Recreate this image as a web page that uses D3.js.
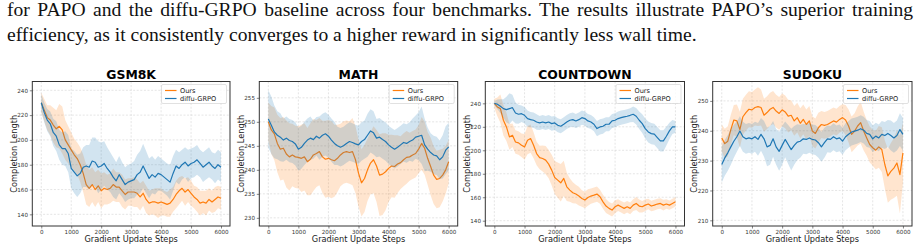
<!DOCTYPE html>
<html>
<head>
<meta charset="utf-8">
<script src="https://cdn.jsdelivr.net/npm/d3@7"></script>
<style>
  body { margin: 0; background: #fff; }
  svg { display: block; }
</style>
</head>
<body>
<script>

// gradient update steps, sampled every 100
let steps = d3.range(0, 6001, 100);

let xTicks = [0, 1000, 2000, 3000, 4000, 5000, 6000];

let seriesNames = ["Ours", "diffu-GRPO"];

// GSM8K
let gsmOurs = [
  230, 224, 218, 216, 212, 209, 211, 208, 200, 196,
  192, 188, 185, 180, 173, 164, 161, 164, 160, 163,
  159, 161, 160, 161, 164, 162, 162, 159, 156, 158,
  158, 158, 157, 154, 157, 152, 149, 150, 150, 149,
  150, 149, 148, 149, 152, 156, 159, 161, 158, 160,
  157, 154, 152, 149, 150, 149, 152, 150, 152, 154,
  153];
let gsmOursSd = [
  8, 9, 10, 12, 14, 15, 18, 19, 16, 15,
  14, 13, 13, 14, 15, 16, 15, 14, 14, 13,
  14, 13, 12, 12, 13, 12, 12, 13, 12, 11,
  11, 12, 11, 11, 10, 11, 10, 10, 11, 12,
  11, 10, 10, 11, 10, 11, 11, 10, 11, 10,
  10, 9, 10, 10, 9, 10, 9, 9, 10, 9,
  9];
let gsmGrpo = [
  230, 222, 216, 213, 206, 203, 196, 193, 193, 189,
  177, 174, 171, 173, 178, 179, 178, 183, 182, 178,
  179, 181, 177, 174, 170, 167, 172, 168, 164, 166,
  167, 168, 172, 174, 179, 174, 169, 172, 170, 173,
  172, 170, 168, 166, 173, 179, 177, 180, 182, 179,
  181, 182, 184, 181, 178, 180, 182, 179, 177, 180,
  178];
let gsmGrpoSd = [
  7, 8, 9, 10, 11, 12, 12, 13, 14, 15,
  16, 17, 17, 16, 16, 17, 18, 19, 20, 21,
  19, 18, 17, 16, 16, 15, 15, 14, 14, 14,
  14, 15, 16, 17, 18, 17, 16, 15, 14, 14,
  13, 13, 13, 14, 14, 13, 13, 12, 12, 13,
  12, 12, 12, 11, 12, 12, 12, 11, 12, 12,
  12];
let gsmTicks = [140, 160, 180, 200, 220, 240];

// MATH
let mathOurs = [
  250, 248.3, 247.5, 245.5, 244.3, 244.5, 243.3, 242.7, 243.1, 242.7,
  242.6, 242.4, 242.7, 241.7, 242.2, 243.1, 243.4, 243.8, 242.7, 242.2,
  242.4, 242.1, 241.9, 242.4, 243.1, 243.6, 243.8, 243.6, 243.8, 242.1,
  239.3, 237.3, 238.2, 240.0, 241.4, 242.1, 240.8, 238.9, 239.1, 239.6,
  240.3, 240.8, 240.7, 241.2, 241.5, 242.1, 242.6, 242.7, 243.1, 243.4,
  244.3, 245.5, 244.5, 242.4, 240.7, 238.9, 238.0, 238.2, 238.9, 240.0,
  241.7];
let mathOursSd = [
  4, 5, 5.5, 6, 6.5, 6.5, 7, 7, 6.5, 6.5,
  6.5, 7, 7, 7, 7.5, 7.5, 7, 7, 7.5, 8,
  8, 8, 7.5, 7, 6.5, 6.5, 6.5, 6.5, 7, 7,
  7, 7, 7, 6.5, 6.5, 7, 7.5, 8.5, 8.5, 8,
  7, 6.5, 6.5, 6, 5.5, 5.5, 5.5, 5, 5, 5,
  5, 5.5, 5.5, 5.5, 6, 6, 6, 6, 5.5, 5,
  4.5];
let mathGrpo = [
  250.6, 249.3, 247.9, 247.2, 246.8, 246.2, 246.6, 246.1, 245.9, 245.4,
  244.3, 244.7, 245.5, 246.2, 246.6, 246.3, 247.0, 246.6, 247.2, 247.5,
  247.0, 246.2, 245.5, 245.0, 244.7, 245.0, 245.5, 245.9, 245.7, 245.4,
  245.2, 245.9, 246.3, 247.2, 248.1, 247.7, 246.6, 246.8, 246.3, 245.9,
  245.2, 244.7, 244.3, 244.7, 245.2, 245.7, 245.5, 245.9, 246.2, 246.8,
  247.0, 247.2, 245.2, 244.3, 243.6, 243.1, 242.9, 242.1, 242.7, 244.1,
  244.8];
let mathGrpoSd = [
  6, 6, 5.5, 5, 5, 4.5, 4.5, 4.5, 4.5, 4.5,
  4.5, 4.5, 4.5, 4.5, 4.5, 4, 4, 4.5, 4.5, 4.5,
  4.5, 4.5, 4.5, 4, 4, 4, 4, 4, 4, 4,
  4, 4, 4, 4.5, 4.5, 4.5, 4, 4, 4, 4,
  4, 4, 4, 4, 4, 4, 4, 4, 4.5, 4.5,
  5, 6, 5.5, 4.5, 4, 4, 4, 4, 4.5, 5,
  5];
let mathTicks = [230, 235, 240, 245, 250, 255];

// COUNTDOWN
let cdOurs = [
  240, 236.9, 235.5, 225.6, 219.9, 211.4, 212.8, 207.1, 206.3, 204.3,
  202.9, 208.6, 210.0, 204.3, 197.2, 193.8, 193.0, 191.6, 188.2, 183.1,
  176.8, 174.6, 172.3, 176.0, 168.9, 166.1, 163.8, 162.7, 161.0, 159.0,
  157.6, 159.8, 161.0, 161.8, 162.7, 160.4, 156.1, 152.5, 150.5, 149.1,
  151.9, 153.3, 151.9, 150.5, 151.9, 150.5, 153.3, 154.7, 152.5, 151.9,
  153.3, 154.2, 152.5, 153.3, 154.2, 154.7, 153.3, 154.2, 153.3, 154.7,
  156.1];
let cdOursSd = [
  4, 8, 12, 13, 12, 11, 10, 10, 10, 10,
  11, 12, 12, 11, 10, 10, 11, 12, 12, 13,
  14, 15, 16, 15, 12, 10, 9, 8, 8, 7,
  7, 7, 6.5, 6.5, 6.5, 6, 6, 6, 5.5, 5.5,
  5.5, 5, 5, 5, 5, 5, 5, 5.5, 5.5, 5,
  5, 4.5, 4.5, 4.5, 4.5, 4.5, 4.5, 4, 4, 4,
  4];
let cdGrpo = [
  240, 239.2, 237.5, 235.5, 234.6, 235.5, 236.3, 231.8, 230.7, 231.2,
  229.8, 227.0, 226.1, 225.6, 224.1, 223.3, 224.1, 223.3, 224.1, 222.7,
  223.3, 221.3, 220.5, 222.2, 224.1, 225.6, 226.1, 225.0, 226.1, 227.8,
  227.0, 225.0, 224.1, 222.2, 218.5, 219.9, 220.5, 222.2, 222.2, 225.0,
  225.6, 227.0, 227.8, 228.4, 229.0, 229.8, 230.7, 229.0, 225.6, 222.7,
  218.5, 215.6, 214.2, 213.7, 210.8, 208.0, 208.0, 212.0, 216.5, 219.9,
  219.9];
let cdGrpoSd = [
  2, 4, 6, 8, 11, 13, 11, 9, 8, 7,
  7, 7, 6.5, 6.5, 6.5, 6, 6, 6, 6, 6,
  6, 6, 6, 6, 6, 6, 6, 6, 6, 6,
  6, 6, 6, 6, 6.5, 6.5, 6.5, 6, 6, 6,
  6, 6, 6, 6, 6, 6, 6.5, 7, 7.5, 8,
  8.5, 9, 9, 9, 9, 9, 9, 8, 7, 6,
  5];
let cdTicks = [140, 160, 180, 200, 220, 240];

// SUDOKU
let sudOurs = [
  237.6, 235.7, 236.5, 240.4, 243.6, 243.3, 240.4, 244.7, 246.1, 247.2,
  247.0, 247.8, 248.1, 247.8, 245.2, 246.1, 247.2, 247.8, 246.6, 245.8,
  247.0, 246.3, 244.9, 245.2, 243.3, 244.4, 242.5, 243.8, 242.1, 243.3,
  239.9, 239.1, 241.0, 242.1, 241.8, 242.1, 242.7, 243.3, 242.9, 243.8,
  244.4, 243.6, 241.6, 238.8, 239.9, 241.6, 242.7, 239.9, 237.6, 235.4,
  234.3, 233.5, 234.6, 233.7, 228.7, 224.9, 226.4, 227.5, 229.2, 225.3,
  232.6];
let sudOursSd = [
  4.5, 5, 5, 5, 5, 5.5, 6, 6, 6, 6,
  6, 6, 6.5, 6, 5.5, 5.5, 5.5, 5.5, 5.5, 5.5,
  5.5, 5.5, 5.5, 5, 5, 5, 5, 5, 5, 5,
  5, 5, 5, 4.5, 4.5, 4.5, 4.5, 4.5, 4.5, 4.5,
  4.5, 5, 5.5, 6, 6, 6.5, 7, 6.5, 6, 6,
  6, 6.5, 7, 7.5, 8, 9, 9.5, 10, 11, 13,
  10];
let sudGrpo = [
  228.7, 230.9, 232.6, 234.6, 236.5, 238.0, 239.9, 238.0, 237.3, 237.6,
  237.3, 238.0, 237.1, 238.8, 237.3, 234.6, 235.1, 237.3, 234.6, 233.1,
  235.1, 237.1, 235.4, 233.7, 235.1, 236.2, 236.5, 237.3, 237.1, 237.6,
  237.1, 236.9, 236.0, 234.6, 236.0, 237.3, 237.1, 238.0, 237.3, 237.6,
  236.5, 238.0, 238.8, 239.6, 239.9, 240.2, 240.7, 240.2, 239.1, 238.8,
  237.3, 238.2, 237.6, 238.8, 238.4, 239.1, 238.4, 237.6, 238.4, 240.4,
  238.8];
let sudGrpoSd = [
  6, 6, 6, 6, 5.5, 5, 5, 5, 5, 5,
  5, 5, 5.5, 5.5, 6, 6.5, 6.5, 6, 6, 6.5,
  6.5, 6, 6.5, 7, 6.5, 6, 5.5, 5, 5, 5,
  5, 5, 5, 5, 5, 4.5, 4.5, 4.5, 4.5, 4.5,
  4.5, 4.5, 4.5, 4.5, 4.5, 4.5, 4.5, 4.5, 4.5, 4.5,
  4.5, 4.5, 4.5, 4.5, 4.5, 4.5, 5, 5, 5, 5.5,
  5.5];
let sudTicks = [210, 220, 230, 240, 250];

let captionLines = [
  "for PAPO and the diffu-GRPO baseline across four benchmarks. The results illustrate PAPO\u2019s superior training",
  "efficiency, as it consistently converges to a higher reward in significantly less wall time."
];


let width = 920;
let height = 250;
let plotTop = 81.5;
let plotBottom = 226;

let colors = ["#ff7f0e", "#1f77b4"];

let panels = [
  { title: "GSM8K", ours: gsmOurs, oursSd: gsmOursSd, grpo: gsmGrpo, grpoSd: gsmGrpoSd,
    ticks: gsmTicks, yDomain: [130.6, 247.1], left: 32.3, right: 230 },
  { title: "MATH", ours: mathOurs, oursSd: mathOursSd, grpo: mathGrpo, grpoSd: mathGrpoSd,
    ticks: mathTicks, yDomain: [228.3, 258.4], left: 259.3, right: 457.7 },
  { title: "COUNTDOWN", ours: cdOurs, oursSd: cdOursSd, grpo: cdGrpo, grpoSd: cdGrpoSd,
    ticks: cdTicks, yDomain: [135.5, 258.6], left: 485.3, right: 684.5 },
  { title: "SUDOKU", ours: sudOurs, oursSd: sudOursSd, grpo: sudGrpo, grpoSd: sudGrpoSd,
    ticks: sudTicks, yDomain: [208.1, 256.5], left: 712.7, right: 912 }
];


let svg = d3.select("body")
  .append("svg")
  .attr("width", width)
  .attr("height", height);

// caption text above the figure, first line justified
let caption = svg.append("g")
  .attr("font-family", "'Liberation Serif', 'Times New Roman', serif")
  .attr("font-size", 19.6)
  .attr("fill", "#111");

captionLines.forEach((line, i) => {
  let t = caption.append("text")
    .attr("x", 7)
    .attr("y", 16 + i * 25)
    .text(line);
  if (i == 0) {
    let natural = t.node().getComputedTextLength();
    let spaces = line.split(" ").length - 1;
    t.attr("word-spacing", (906 - natural) / spaces);
  }
});


function drawPanel(p, idx) {

  let x = d3.scaleLinear()
    .domain([-300, 6300])
    .range([p.left, p.right]);

  let y = d3.scaleLinear()
    .domain(p.yDomain)
    .range([plotBottom, plotTop]);

  let g = svg.append("g");

  g.append("clipPath")
    .attr("id", "clip" + idx)
    .append("rect")
    .attr("x", p.left)
    .attr("y", plotTop)
    .attr("width", p.right - p.left)
    .attr("height", plotBottom - plotTop);

  // grid
  let grid = g.append("g")
    .attr("stroke", "#d4d4d4")
    .attr("stroke-width", 0.6)
    .attr("stroke-dasharray", "2,1.6");

  grid.selectAll(".gx")
    .data(xTicks)
    .join("line")
      .attr("x1", d => x(d))
      .attr("x2", d => x(d))
      .attr("y1", plotTop)
      .attr("y2", plotBottom);

  grid.selectAll(".gy")
    .data(p.ticks)
    .join("line")
      .attr("x1", p.left)
      .attr("x2", p.right)
      .attr("y1", d => y(d))
      .attr("y2", d => y(d));

  // bands and mean lines, Ours first then diffu-GRPO
  let series = [
    { mean: p.ours, sd: p.oursSd, color: colors[0] },
    { mean: p.grpo, sd: p.grpoSd, color: colors[1] }
  ];

  let plot = g.append("g").attr("clip-path", `url(#clip${idx})`);

  series.forEach(s => {
    let area = d3.area()
      .x((d, i) => x(steps[i]))
      .y0((d, i) => y(d - s.sd[i]))
      .y1((d, i) => y(d + s.sd[i]));

    let line = d3.line()
      .x((d, i) => x(steps[i]))
      .y(d => y(d));

    plot.append("path")
      .datum(s.mean)
      .attr("d", area)
      .attr("fill", s.color)
      .attr("fill-opacity", 0.2);

    plot.append("path")
      .datum(s.mean)
      .attr("d", line)
      .attr("fill", "none")
      .attr("stroke", s.color)
      .attr("stroke-width", 1.2)
      .attr("stroke-linejoin", "round");
  });

  // axes
  let xAxis = g.append("g")
    .attr("transform", `translate(0,${plotBottom})`)
    .call(d3.axisBottom(x).tickValues(xTicks).tickFormat(d3.format("d"))
      .tickSize(2.5).tickPadding(1.8));

  let yAxis = g.append("g")
    .attr("transform", `translate(${p.left},0)`)
    .call(d3.axisLeft(y).tickValues(p.ticks).tickFormat(d3.format("d"))
      .tickSize(2.5).tickPadding(1.8));

  [xAxis, yAxis].forEach(a => {
    a.select(".domain").remove();
    a.selectAll(".tick line").attr("stroke", "#333").attr("stroke-width", 0.6);
    a.selectAll(".tick text")
      .attr("font-family", "'DejaVu Sans', sans-serif")
      .attr("font-size", 5.6)
      .attr("fill", "#333");
  });

  // frame
  g.append("rect")
    .attr("x", p.left)
    .attr("y", plotTop)
    .attr("width", p.right - p.left)
    .attr("height", plotBottom - plotTop)
    .attr("fill", "none")
    .attr("stroke", "#333")
    .attr("stroke-width", 1);

  // titles and labels
  g.append("text")
    .attr("x", (p.left + p.right) / 2)
    .attr("y", plotTop - 2.5)
    .attr("text-anchor", "middle")
    .attr("font-family", "'DejaVu Sans', sans-serif")
    .attr("font-weight", "bold")
    .attr("font-size", 12.4)
    .text(p.title);

  g.append("text")
    .attr("x", (p.left + p.right) / 2)
    .attr("y", plotBottom + 16)
    .attr("text-anchor", "middle")
    .attr("font-family", "'DejaVu Sans', sans-serif")
    .attr("font-size", 8.2)
    .attr("fill", "#222")
    .text("Gradient Update Steps");

  g.append("text")
    .attr("transform", `translate(${p.left - 18.5},${(plotTop + plotBottom) / 2}) rotate(-90)`)
    .attr("dy", "0.35em")
    .attr("text-anchor", "middle")
    .attr("font-family", "'DejaVu Sans', sans-serif")
    .attr("font-size", 8.2)
    .attr("fill", "#222")
    .text("Completion Length");

  // legend
  let lw = 65, lh = 19;
  let lx = p.right - 3.5 - lw;
  let ly = plotTop + 3;
  let legend = g.append("g");

  legend.append("rect")
    .attr("x", lx)
    .attr("y", ly)
    .attr("width", lw)
    .attr("height", lh)
    .attr("rx", 1.5)
    .attr("fill", "#fff")
    .attr("fill-opacity", 0.8)
    .attr("stroke", "#cccccc")
    .attr("stroke-width", 0.6);

  seriesNames.forEach((name, i) => {
    let cy = ly + 6 + i * 8;
    legend.append("line")
      .attr("x1", lx + 3.5)
      .attr("x2", lx + 15)
      .attr("y1", cy)
      .attr("y2", cy)
      .attr("stroke", colors[i])
      .attr("stroke-width", 1.2);
    legend.append("text")
      .attr("x", lx + 18.5)
      .attr("y", cy)
      .attr("dy", "0.35em")
      .attr("font-family", "'DejaVu Sans', sans-serif")
      .attr("font-size", 6.6)
      .attr("fill", "#222")
      .text(name);
  });
}

panels.forEach((p, i) => drawPanel(p, i));

</script>
</body>
</html>
